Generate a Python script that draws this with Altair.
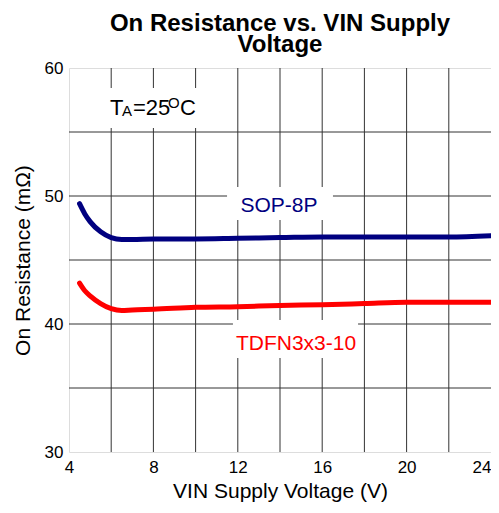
import altair as alt
import pandas as pd

# Series data
sop_v = [4.5, 4.75, 5.0, 5.5, 6.0, 6.5, 7.0, 8.0, 10.0, 12.0, 14.0, 16.0, 18.0, 20.0, 22.0, 24.0]
sop_r = [49.4, 48.6, 48.0, 47.2, 46.75, 46.6, 46.6, 46.65, 46.65, 46.7, 46.75, 46.8, 46.8, 46.8, 46.8, 46.9]
tdfn_v = [4.5, 4.75, 5.0, 5.5, 6.0, 6.5, 7.0, 8.0, 10.0, 12.0, 14.0, 16.0, 18.0, 20.0, 22.0, 24.0]
tdfn_r = [43.2, 42.6, 42.2, 41.6, 41.2, 41.05, 41.1, 41.15, 41.3, 41.35, 41.45, 41.5, 41.6, 41.7, 41.7, 41.7]

x_labels = [4, 8, 12, 16, 20, 24]
y_labels = [30, 40, 50, 60]
x_grid = [6, 8, 10, 12, 14, 16, 18, 20, 22]
y_grid = [35, 40, 45, 50, 55]

# Annotation labels and their white backing boxes (data units)
label_text = ["SOP-8P", "TDFN3x3-10"]
label_x = [13.95, 14.76]
label_y = [48.77, 37.97]
label_color = ["#000080", "#ff0000"]
box_x1 = [5.47, 11.49, 11.77]
box_x2 = [10.45, 16.51, 17.70]
box_y1 = [55.31, 48.13, 37.34]
box_y2 = [58.44, 50.70, 40.31]
ta_x = 5.94
ta_y = 56.33

lines = pd.DataFrame(
    {"V": sop_v + tdfn_v, "R": sop_r + tdfn_r,
     "pkg": ["SOP-8P"] * len(sop_v) + ["TDFN3x3-10"] * len(tdfn_v)}
)

xs = alt.Scale(domain=[4, 24], nice=False)
ys = alt.Scale(domain=[30, 60], nice=False)

xaxis = alt.Axis(values=x_labels, grid=False, ticks=False, domain=False,
                 labelFont="Liberation Sans", labelFontSize=17, labelColor="black",
                 labelPadding=7, labelFlush=False,
                 labelAlign=alt.expr("datum.value == 24 ? 'right' : 'center'"),
                 title="VIN Supply Voltage (V)",
                 titleFont="Liberation Sans", titleFontSize=21, titleFontWeight="normal",
                 titleColor="black", titlePadding=5)
yaxis = alt.Axis(values=y_labels, grid=False, ticks=False, domain=False,
                 labelFont="Liberation Sans", labelFontSize=17, labelColor="black",
                 labelPadding=6, title="On Resistance (mΩ)",
                 titleFont="Liberation Sans", titleFontSize=21, titleFontWeight="normal",
                 titleColor="black", titlePadding=11)

base_x = alt.X("V:Q", scale=xs, axis=xaxis)
base_y = alt.Y("R:Q", scale=ys, axis=yaxis)

vgrid = alt.Chart(pd.DataFrame({"V": x_grid})).mark_rule(color="#333333", strokeWidth=1).encode(
    x=alt.X("V:Q", scale=xs, axis=xaxis))
hgrid = alt.Chart(pd.DataFrame({"R": y_grid})).mark_rule(color="#333333", strokeWidth=1).encode(
    y=alt.Y("R:Q", scale=ys, axis=yaxis))

boxes = alt.Chart(pd.DataFrame({"x1": box_x1, "x2": box_x2, "y1": box_y1, "y2": box_y2})).mark_rect(
    color="white").encode(
    x=alt.X("x1:Q", scale=xs), x2="x2:Q", y=alt.Y("y1:Q", scale=ys), y2="y2:Q")

line = alt.Chart(lines).mark_line(strokeWidth=5, interpolate="monotone", strokeCap="round").encode(
    x=base_x, y=base_y,
    color=alt.Color("pkg:N", scale=alt.Scale(domain=label_text, range=label_color), legend=None))

labels = alt.Chart(pd.DataFrame({"x": label_x, "y": label_y, "t": label_text, "c": label_color})).mark_text(
    font="Liberation Sans", fontSize=21, align="center", baseline="alphabetic").encode(
    x=alt.X("x:Q", scale=xs), y=alt.Y("y:Q", scale=ys), text="t:N",
    color=alt.Color("c:N", scale=None))

ta_df = pd.DataFrame({"x": [ta_x], "y": [ta_y]})

def ta_piece(txt, size, dx, dy):
    return alt.Chart(ta_df).mark_text(
        text=txt, font="Liberation Sans", fontSize=size, align="left",
        baseline="alphabetic", dx=dx, dy=dy, color="black").encode(
        x=alt.X("x:Q", scale=xs), y=alt.Y("y:Q", scale=ys))

ta = (ta_piece("T", 22, 0, 0) + ta_piece("A", 15, 12, 1) + ta_piece("=25", 22, 23, 0)
      + ta_piece("O", 15, 58, -7) + ta_piece("C", 22, 70, 0))

chart = alt.layer(vgrid, hgrid, boxes, line, labels, ta).properties(
    width=422, height=384,
    autosize=alt.AutoSizeParams(type="none"),
    padding={"left": 61, "top": 60, "right": 0, "bottom": 52},
    title=alt.Title(["On Resistance vs. VIN Supply", "Voltage"], font="Liberation Sans",
                    fontSize=24, fontWeight="bold", color="black", lineHeight=21,
                    anchor="middle", offset=2),
).configure_view(stroke="#777777", strokeWidth=1.5).configure(background="white")

chart.save("out.html", embed_options={"renderer": "svg", "actions": False})
